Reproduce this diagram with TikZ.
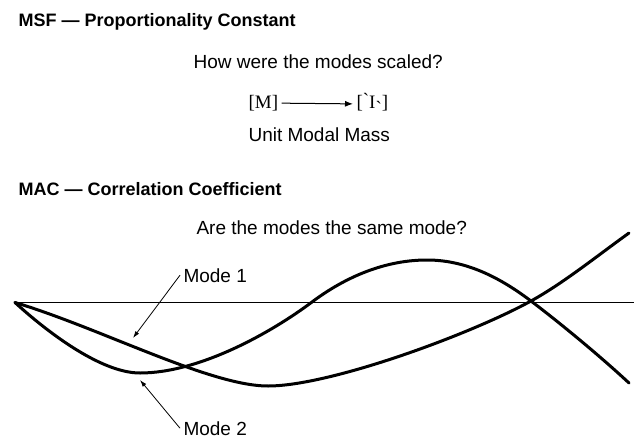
\documentclass[tikz,border=0pt]{standalone}
\usepackage{fontspec}
\setmainfont{Liberation Sans}
\newfontfamily\matfont{Liberation Serif}
\usetikzlibrary{arrows.meta}

\begin{document}
\begin{tikzpicture}[x=1pt, y=-1pt,
        title/.style={anchor=base west, font=\fontsize{18}{22}\selectfont\bfseries},
        txt/.style={anchor=base west, font=\fontsize{19}{23}\selectfont},
        mat/.style={anchor=base west, font=\fontsize{19}{23}\selectfont\matfont},
        modeline/.style={line width=3pt, line cap=round, line join=round},
        pointer/.style={-{Latex[length=7pt,width=4.5pt]}, line width=0.8pt}]
        \useasboundingbox (0,0) rectangle (634,439);
        % MSF
        \node[title] (msf) at (15,26.5) {MSF — Proportionality Constant};
        \node[txt] (scaled) at (190,68) {How were the modes scaled?};
        \node[mat] (mass) at (245,108.3) {[M]};
        \node[mat] (unit) at (353,108.3) {[\raisebox{0.1em}{\textasciigrave}I\raisebox{-0.35em}{\textasciigrave}]};
        \draw[-{Latex[length=8pt,width=6pt]}, line width=1pt] (mass) -- (unit);
        \node[txt] (unitmass) at (245,141.7) {Unit Modal Mass};
        % MAC
        \node[title] (mac) at (15,195) {MAC — Correlation Coefficient};
        \node[txt] (same) at (193,234) {Are the modes the same mode?};
        % Axis
        \draw[line width=1.3pt] (15,302.5) -- (634,302.5);
        % Mode 1
        \draw[modeline] (15,302.5) .. controls (100,328) and (210,386) .. (268,386)
            .. controls (330,386) and (470,334.5) .. (531,301)
            .. controls (563,283.4) and (597,256) .. (629,233);
        % Mode 2
        \draw[modeline] (15,302.5) .. controls (45,330) and (100,373) .. (140,373)
            .. controls (200,373) and (272,332) .. (312,302)
            .. controls (340,281) and (380,260) .. (427,260)
            .. controls (470,260) and (505,281.5) .. (531,301)
            .. controls (560,323) and (600,356) .. (629,383);
        % Labels
        \node[txt] (mode1) at (180,282) {Mode 1};
        \node[txt] (mode2) at (180,435) {Mode 2};
        \coordinate (tip1) at (133,338);
        \coordinate (tip2) at (140,380);
        \draw[pointer] (mode1.west) -- (tip1);
        \draw[pointer] (mode2.west) -- (tip2);
\end{tikzpicture}
\end{document}
